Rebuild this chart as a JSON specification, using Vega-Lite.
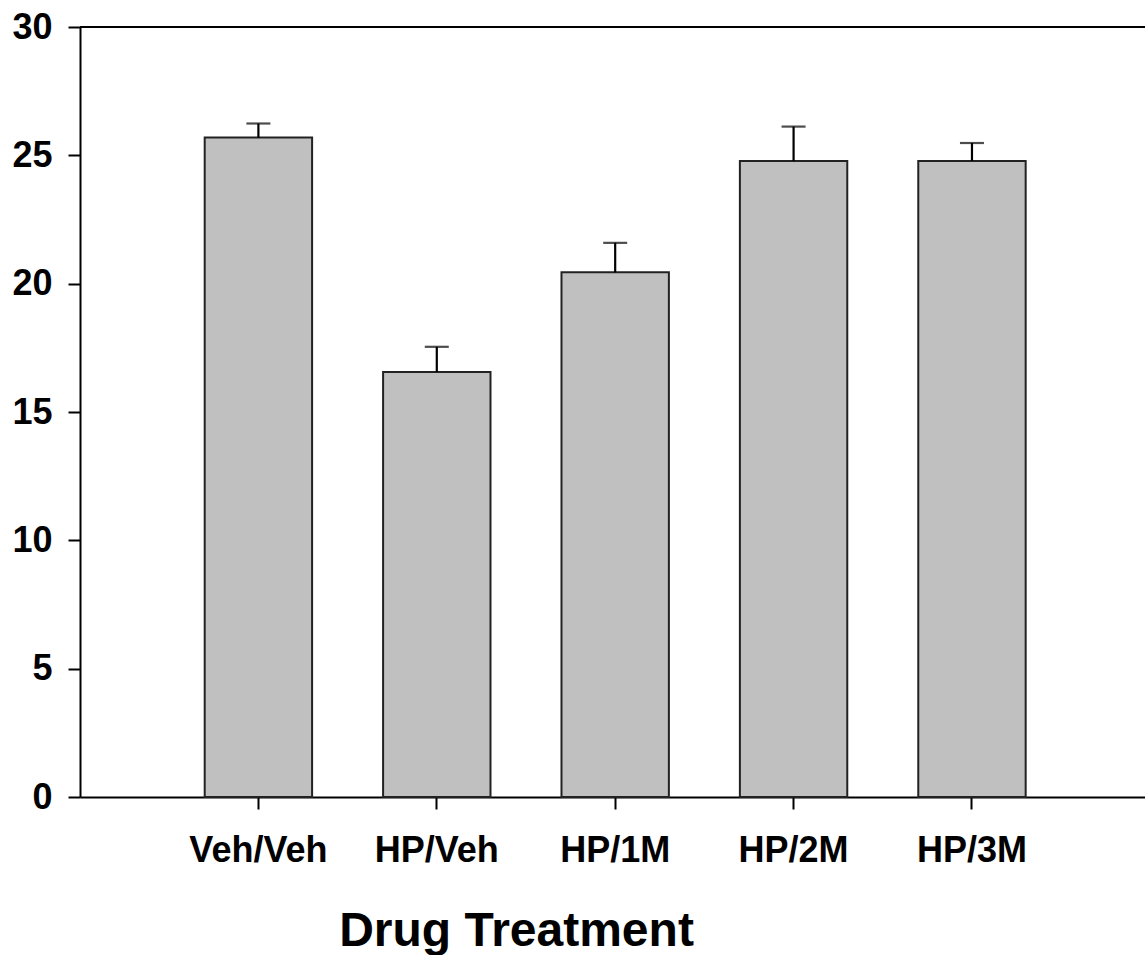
{
  "$schema": "https://vega.github.io/schema/vega-lite/v6.json",
  "width": 1065,
  "height": 770,
  "autosize": "none",
  "padding": {"left": 80, "top": 27, "right": 0, "bottom": 158},
  "background": "white",
  "config": {"view": {"stroke": null}, "font": "Liberation Sans"},
  "data": {
    "values": [
      {"treatment": "Veh/Veh", "mean": 25.69, "upper": 26.24},
      {"treatment": "HP/Veh", "mean": 16.56, "upper": 17.54},
      {"treatment": "HP/1M", "mean": 20.44, "upper": 21.59},
      {"treatment": "HP/2M", "mean": 24.78, "upper": 26.12},
      {"treatment": "HP/3M", "mean": 24.78, "upper": 25.48}
    ]
  },
  "layer": [
    {
      "mark": {"type": "bar", "fill": "#c0c0c0", "stroke": "#222222", "strokeWidth": 2},
      "encoding": {
        "x": {
          "field": "treatment", "type": "nominal", "sort": null, "title": "Drug Treatment",
          "scale": {"paddingInner": 0.398, "paddingOuter": 0.684, "align": 0.511},
          "axis": {
            "labelAngle": 0, "labelFont": "Liberation Sans", "labelFontSize": 36, "labelFontWeight": "bold", "labelColor": "black",
            "labelPadding": 52, "labelBaseline": "alphabetic",
            "tickSize": 12, "tickWidth": 2, "tickColor": "black",
            "domainWidth": 2, "domainColor": "black", "grid": false,
            "title": "Drug Treatment", "titleFont": "Liberation Sans", "titleFontSize": 48, "titleFontWeight": "bold", "titleColor": "black",
            "titleX": 436, "titleY": 148, "titleBaseline": "alphabetic", "titleAlign": "center"
          }
        },
        "y": {
          "field": "mean", "type": "quantitative", "title": null,
          "scale": {"domain": [0, 30], "nice": false},
          "axis": {
            "values": [0, 5, 10, 15, 20, 25, 30],
            "labelFont": "Liberation Sans", "labelFontSize": 36, "labelFontWeight": "bold", "labelColor": "black",
            "labelPadding": 16,
            "tickSize": 12, "tickWidth": 2, "tickColor": "black",
            "domainWidth": 2, "domainColor": "black", "grid": false, "title": null
          }
        }
      }
    },
    {
      "mark": {"type": "rule", "color": "black", "strokeWidth": 2.2},
      "encoding": {
        "x": {"field": "treatment", "type": "nominal", "sort": null, "title": "Drug Treatment"},
        "y": {"field": "mean", "type": "quantitative", "title": null},
        "y2": {"field": "upper"}
      }
    },
    {
      "mark": {"type": "tick", "color": "black", "thickness": 2.2, "size": 24, "orient": "horizontal"},
      "encoding": {
        "x": {"field": "treatment", "type": "nominal", "sort": null, "title": "Drug Treatment"},
        "y": {"field": "upper", "type": "quantitative", "title": null}
      }
    },
    {
      "mark": {"type": "rule", "color": "black", "strokeWidth": 2},
      "encoding": {"y": {"datum": 30, "title": null}}
    }
  ]
}
